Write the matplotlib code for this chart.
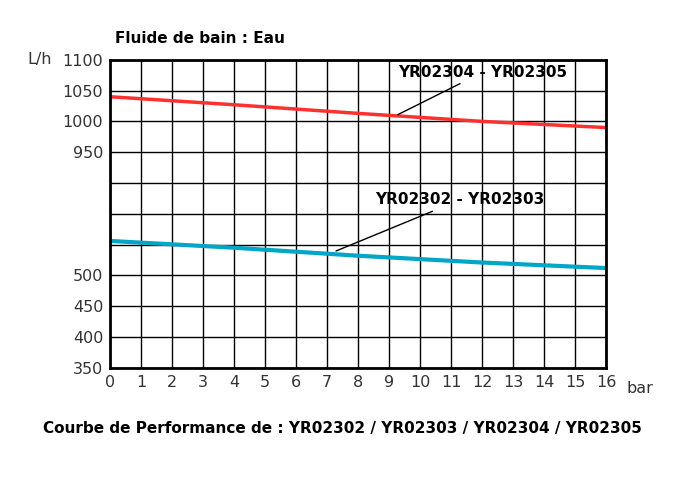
import matplotlib
matplotlib.use("Agg")
import matplotlib.pyplot as plt
import numpy as np

pressure = [0, 4, 8, 12, 16]
flow_low = [556, 545, 532, 521, 512]      # YR02302 - YR02303
flow_high = [1040, 1027, 1013, 1000, 990]  # YR02304 - YR02305
ytick_labels = ["350", "400", "450", "500", "", "", "", "950", "1000", "1050", "1100"]
xticks = list(range(0, 17))

def low_pos(v):
    return (np.array(v) - 350) / 50.0

def high_pos(v):
    return 7 + (np.array(v) - 950) / 50.0

fig = plt.figure(figsize=(6.85, 4.86), dpi=100)
ax = fig.add_axes([0.161, 0.243, 0.724, 0.634])
ax.set_xlim(0, 16)
ax.set_ylim(0, 10)
ax.set_xticks(xticks)
ax.set_yticks(range(11))
ax.set_yticklabels(ytick_labels)
ax.grid(True, color="black", linewidth=1)
for s in ax.spines.values():
    s.set_linewidth(2)
ax.tick_params(length=0, labelsize=11.5, colors="#333333", pad=5)

ax.plot(pressure, low_pos(flow_low), color="#00a6c8", linewidth=3)
ax.plot(pressure, high_pos(flow_high), color="#ff3030", linewidth=2.5)

ax.annotate("YR02304 - YR02305", xy=(9.2, high_pos(1009)), xytext=(9.3, 9.6),
            ha="left", va="center", fontsize=11, fontweight="bold",
            arrowprops=dict(arrowstyle="-", color="black", lw=1))
ax.annotate("YR02302 - YR02303", xy=(7.2, low_pos(538)), xytext=(8.55, 5.45),
            ha="left", va="center", fontsize=11, fontweight="bold",
            arrowprops=dict(arrowstyle="-", color="black", lw=1))

fig.text(0.04, 0.877, "L/h", fontsize=11.5, color="#333333", va="center")
fig.text(0.915, 0.2, "bar", fontsize=11.5, color="#333333", va="center")
fig.text(0.168, 0.912, "Fluide de bain : Eau", fontsize=11, fontweight="bold")
fig.text(0.5, 0.11, "Courbe de Performance de : YR02302 / YR02303 / YR02304 / YR02305",
         fontsize=11, fontweight="bold", ha="center")
fig.savefig("out.png", dpi=100)
